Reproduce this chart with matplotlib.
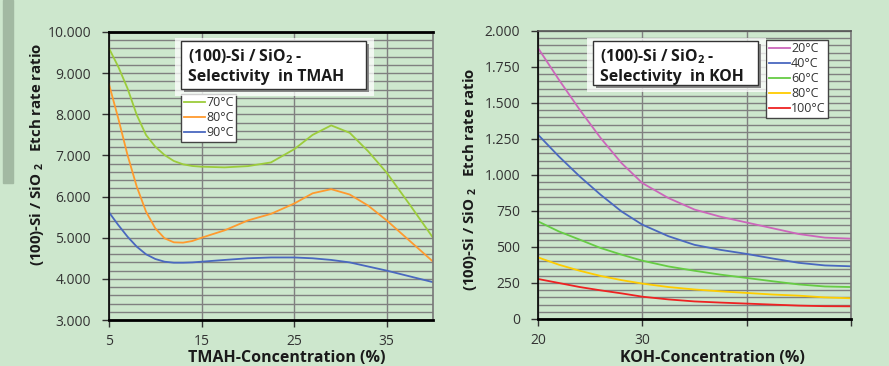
import matplotlib
matplotlib.use("Agg")
import matplotlib.pyplot as plt
from matplotlib.patches import Rectangle
from matplotlib.ticker import FixedLocator, MultipleLocator, FuncFormatter

plt.rcParams['font.family'] = ['Open Sans', 'DejaVu Sans']
plt.rcParams['mathtext.fontset'] = 'custom'
plt.rcParams['mathtext.rm'] = 'Open Sans'
plt.rcParams['mathtext.bf'] = 'Open Sans:bold'

# TMAH data (concentration %, etch-rate ratio)
tmah_x = [5, 6, 7, 8, 9, 10, 11, 12, 13, 14, 15, 17.5, 20, 22.5, 25, 27, 29, 31, 33, 35, 37.5, 40]
tmah_70 = [9603, 9157, 8630, 7983, 7497, 7212, 7010, 6865, 6784, 6743, 6726, 6710, 6740,
           6830, 7150, 7500, 7730, 7550, 7100, 6580, 5800, 5000]
tmah_80 = [8729, 7902, 7010, 6240, 5633, 5229, 4986, 4888, 4880, 4920, 5000, 5180, 5420,
           5580, 5830, 6080, 6180, 6050, 5780, 5420, 4920, 4420]
tmah_90 = [5617, 5309, 5025, 4782, 4597, 4483, 4417, 4393, 4393, 4400, 4417, 4460, 4500,
           4520, 4520, 4500, 4460, 4400, 4300, 4200, 4060, 3920]
tmah_labels = ['70°C', '80°C', '90°C']

# KOH data
koh_x = [20, 22, 24, 26, 28, 30, 32.5, 35, 37.5, 40, 42.5, 45, 47.5, 50]
koh_20 = [1882, 1662, 1453, 1257, 1083, 944, 840, 760, 710, 670, 630, 590, 565, 558]
koh_40 = [1280, 1129, 990, 863, 747, 655, 575, 515, 480, 452, 420, 390, 372, 366]
koh_60 = [678, 608, 551, 493, 447, 405, 365, 335, 308, 285, 262, 240, 226, 222]
koh_80 = [428, 377, 335, 299, 270, 246, 222, 205, 192, 181, 170, 162, 150, 144]
koh_100 = [278, 250, 222, 199, 178, 155, 136, 122, 114, 107, 100, 93, 89, 88]
koh_labels = ['20°C', '40°C', '60°C', '80°C', '100°C']

tmah_colors = ['#9ccc3c', '#ff9a2e', '#4a68bf']
koh_colors = ['#cc66bb', '#4a68bf', '#66cc44', '#ffcc00', '#ee2222']

BG = '#cde7cd'
W, H = 889, 366


def fx(x):
    return x / W


def fy(y):
    return 1 - y / H


def dotted(v, pos):
    return format(int(round(v)), ',').replace(',', '.')


fig = plt.figure(figsize=(8.89, 3.66), dpi=100, facecolor=BG)

# grey bar at top left
fig.patches.append(Rectangle((fx(3), fy(183)), fx(10), 183 / H,
                             transform=fig.transFigure, color='#a2b9a2', zorder=0))

ax1 = fig.add_axes([fx(109), fy(320), fx(433 - 109), (320 - 32) / H])
ax2 = fig.add_axes([fx(538), fy(319), fx(851 - 538), (319 - 31) / H])


def style(ax, xlim, ylim, xmajor, ymajor, yminor):
    ax.set_facecolor(BG)
    ax.set_xlim(*xlim)
    ax.set_ylim(*ylim)
    ax.xaxis.set_major_locator(FixedLocator(xmajor))
    ax.yaxis.set_major_locator(MultipleLocator(ymajor))
    ax.yaxis.set_minor_locator(MultipleLocator(yminor))
    ax.yaxis.set_major_formatter(FuncFormatter(dotted))
    ax.grid(True, which='both', axis='y', color='#808080', lw=1)
    ax.grid(True, which='major', axis='x', color='#808080', lw=1)
    ax.set_axisbelow(True)
    ax.tick_params(axis='both', which='major', direction='out', length=5,
                   width=1, color='#333333', labelsize=10, labelcolor='#333333')
    ax.tick_params(axis='y', which='minor', length=0)
    ax.tick_params(axis='y', pad=8)
    ax.tick_params(axis='x', pad=5)
    ax.spines['left'].set_color('black')
    ax.spines['left'].set_linewidth(1.2)
    ax.spines['bottom'].set_color('black')
    ax.spines['bottom'].set_linewidth(2)
    ax.spines['right'].set_color('#777777')
    ax.spines['right'].set_linewidth(1.2)


style(ax1, (5, 40), (3000, 10000), [5, 15, 25, 35, 45], 1000, 200)
ax1.spines['top'].set_color('black')
ax1.spines['top'].set_linewidth(2)
style(ax2, (20, 50), (0, 2000), [20, 30, 40, 50], 250, 50)
ax2.spines['top'].set_color('#555555')
ax2.spines['top'].set_linewidth(1.2)
ax2.set_xticklabels(['20', '30', '', ''])

for ys, c, lab in zip([tmah_70, tmah_80, tmah_90], tmah_colors, tmah_labels):
    ax1.plot(tmah_x, ys, color=c, lw=1.3, label=lab)
for ys, c, lab in zip([koh_20, koh_40, koh_60, koh_80, koh_100], koh_colors, koh_labels):
    ax2.plot(koh_x, ys, color=c, lw=1.3, label=lab)

ylab = '(100)-Si / SiO $_\\mathbf{2}$   Etch rate ratio'
fig.text(fx(37), fy(154), ylab, rotation=90, ha='center', va='center',
         fontsize=10.8, fontweight='bold', color='#1a1a1a')
fig.text(fx(470), fy(179), ylab, rotation=90, ha='center', va='center',
         fontsize=10.8, fontweight='bold', color='#1a1a1a')
fig.text(fx(287), fy(358), 'TMAH-Concentration (%)', ha='center', va='center',
         fontsize=11.5, fontweight='bold', color='#1a1a1a')
fig.text(fx(712), fy(358), 'KOH-Concentration (%)', ha='center', va='center',
         fontsize=11.5, fontweight='bold', color='#1a1a1a')


def title_box(x0, y0, x1, y1, lines):
    # white halo
    fig.patches.append(Rectangle((fx(x0 - 6), fy(y1 + 7)), fx(x1 - x0 + 14), (y1 - y0 + 10) / H,
                                 transform=fig.transFigure, facecolor='white',
                                 edgecolor='none', alpha=0.75, zorder=3))
    # shadow
    fig.patches.append(Rectangle((fx(x0 + 3), fy(y1 + 3)), fx(x1 - x0), (y1 - y0) / H,
                                 transform=fig.transFigure, facecolor='#888888',
                                 edgecolor='none', zorder=4))
    fig.patches.append(Rectangle((fx(x0), fy(y1)), fx(x1 - x0), (y1 - y0) / H,
                                 transform=fig.transFigure, facecolor='white',
                                 edgecolor='#333333', lw=1, zorder=5))
    fig.text(fx(x0 + 7), fy(y0 + 16), lines[0], fontsize=11.3, fontweight='bold',
             color='#1a1a1a', va='center', zorder=6)
    fig.text(fx(x0 + 7), fy(y0 + 36), lines[1], fontsize=11.3, fontweight='bold',
             color='#1a1a1a', va='center', zorder=6)


title_box(181, 41, 366, 89, ['(100)-Si / SiO$_\\mathbf{2}$ -', 'Selectivity  in TMAH'])
title_box(593, 41, 758, 85, ['(100)-Si / SiO$_\\mathbf{2}$ -', 'Selectivity  in KOH'])


def make_legend(ax, x0, y0):
    leg = ax.legend(loc='upper left', bbox_to_anchor=(fx(x0), fy(y0)),
                    bbox_transform=fig.transFigure, fontsize=9, frameon=True,
                    fancybox=False, framealpha=1, edgecolor='#444444',
                    borderpad=0.2, labelspacing=0.15, handlelength=1.7,
                    handletextpad=0.1, borderaxespad=0)
    leg.get_frame().set_linewidth(1)
    for t in leg.get_texts():
        t.set_color('#333333')
    leg.set_zorder(7)
    return leg


make_legend(ax1, 181, 94)
make_legend(ax2, 766, 40)

fig.savefig('out.png', dpi=100, facecolor=BG)
